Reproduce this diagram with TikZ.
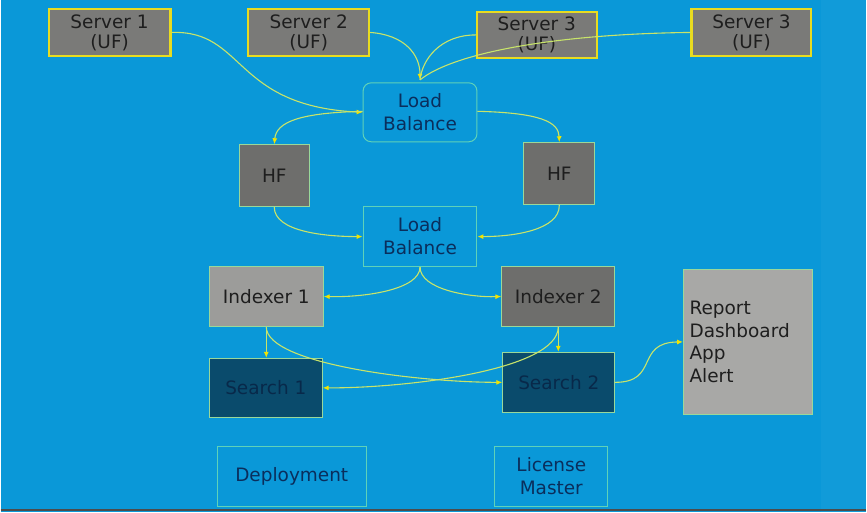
\documentclass[tikz,border=0pt]{standalone}
\usepackage{fontspec}
\setmainfont{DejaVu Sans}
\usetikzlibrary{arrows.meta}
\definecolor{bg}{HTML}{0A98D8}
\definecolor{srvfill}{HTML}{7A7A78}
\definecolor{ybord}{HTML}{E8DC20}
\definecolor{gbord}{HTML}{9AD89A}
\definecolor{tbord}{HTML}{5FD2B8}
\definecolor{hffill}{HTML}{6E6E6C}
\definecolor{idx1}{HTML}{9C9C9A}
\definecolor{srch}{HTML}{0A4B6C}
\definecolor{rep}{HTML}{A8A8A6}
\definecolor{navy}{HTML}{0A2E5C}
\definecolor{srtext}{HTML}{08294A}
\definecolor{dk}{HTML}{1E1E1E}
\definecolor{wire}{HTML}{C8E46A}
\definecolor{tip}{HTML}{F2E400}
\tikzset{
  box/.style={draw, rectangle, inner sep=0pt, font=\fontsize{18.5}{21}\selectfont, align=center},
  srv/.style={box, fill=srvfill, draw=ybord, line width=2.2pt, text=dk, font=\fontsize{18.5}{20}\selectfont},
  lb/.style={box, fill=bg, draw=tbord, line width=1pt, text=navy, font=\fontsize{18.5}{23}\selectfont},
  hf/.style={box, fill=hffill, draw=gbord, line width=1pt, text=dk},
  idxa/.style={box, fill=idx1, draw=gbord, line width=1pt, text=dk},
  idxb/.style={box, fill=hffill, draw=gbord, line width=1pt, text=dk},
  sr/.style={box, fill=srch, draw=gbord, line width=1pt, text=srtext},
  repbox/.style={box, fill=rep, draw=gbord, line width=1pt, text=dk, align=left, font=\fontsize{18.5}{22.5}\selectfont},
  wirestyle/.style={draw=wire, line width=1.1pt, -{Latex[length=6pt,width=5pt,fill=tip,color=tip]}},
  plainwire/.style={draw=wire, line width=1.1pt},
}
\begin{document}
\begin{tikzpicture}[x=1pt,y=-1pt]
\fill[bg] (0,0) rectangle (867,513);
\fill[bg!97!white] (822,0) rectangle (867,513);
\draw[black!70, line width=1.5pt] (0,511) -- (867,511);
\useasboundingbox (0,0) rectangle (867,513);

% nodes
\node[srv, minimum width=122pt, minimum height=47pt] (s1) at (109,32.5) {Server 1\\(UF)};
\node[srv, minimum width=121pt, minimum height=47pt] (s2) at (308.5,32.5) {Server 2\\(UF)};
\node[srv, minimum width=120pt, minimum height=46pt] (s3) at (537,35) {Server 3\\(UF)};
\node[srv, minimum width=120pt, minimum height=47pt] (s4) at (752,32.5) {Server 3\\(UF)};

\node[lb, rounded corners=8pt, minimum width=114pt, minimum height=59pt] (lb1) at (420,112.5) {Load\\Balance};
\node[hf, minimum width=70pt, minimum height=62pt] (hf1) at (274,176) {HF};
\node[hf, minimum width=71pt, minimum height=62pt] (hf2) at (559.5,174) {HF};
\node[lb, minimum width=114pt, minimum height=60pt] (lb2) at (420,237) {Load\\Balance};

\node[idxa, minimum width=114pt, minimum height=60pt] (i1) at (266,297) {Indexer 1};
\node[idxb, minimum width=113pt, minimum height=60pt] (i2) at (558.5,297) {Indexer 2};
\node[sr, minimum width=113pt, minimum height=59pt] (q1) at (265.5,388.5) {Search 1};
\node[sr, minimum width=112pt, minimum height=60pt] (q2) at (559,383) {Search 2};

\node[repbox, minimum width=129pt, minimum height=145pt, text width=117pt] (rp) at (748.5,342.5) {Report\\Dashboard\\App\\Alert};

\node[lb, minimum width=149pt, minimum height=60pt] (dep) at (291.5,477) {Deployment};
\node[lb, minimum width=113pt, minimum height=60pt] (lic) at (551.5,477) {License\\Master};

% connectors
\coordinate (lbtop) at (420,80);
\draw[wirestyle] (s1.east) .. controls (245,30) and (232,106) .. (lb1.west);
\draw[wirestyle] (s2.east) .. controls (405,35) and (420,55) .. (lbtop);
\draw[plainwire] (s3.west) .. controls (440,35) and (422,60) .. (lbtop);
\draw[plainwire] (s4.west) .. controls (560,34) and (455,52) .. (lbtop);

\draw[wirestyle] ([yshift=1pt]lb1.west) .. controls (300,113) and (276,122) .. (hf1.north);
\draw[wirestyle] ([yshift=1pt]lb1.east) .. controls (540,113) and (559,122) .. (hf2.north);

\draw[wirestyle] (hf1.south) .. controls (274,232) and (325,237) .. (lb2.west);
\draw[wirestyle] (hf2.south) .. controls (560,230) and (515,237) .. (lb2.east);

\draw[wirestyle] (lb2.south) .. controls (420,290) and (365,298) .. (i1.east);
\draw[wirestyle] (lb2.south) .. controls (420,290) and (470,298) .. (i2.west);

\draw[wirestyle] (i1.south) -- (i1.south |- q1.north);
\draw[wirestyle] (i1.south) .. controls (266,365) and (420,383) .. (q2.west);
\draw[wirestyle] (i2.south) -- (i2.south |- q2.north);
\draw[wirestyle] (i2.south) .. controls (558,372) and (400,389) .. (q1.east);

\draw[wirestyle] (q2.east) .. controls (660,383) and (635,343) .. (rp.west);
\end{tikzpicture}
\end{document}
